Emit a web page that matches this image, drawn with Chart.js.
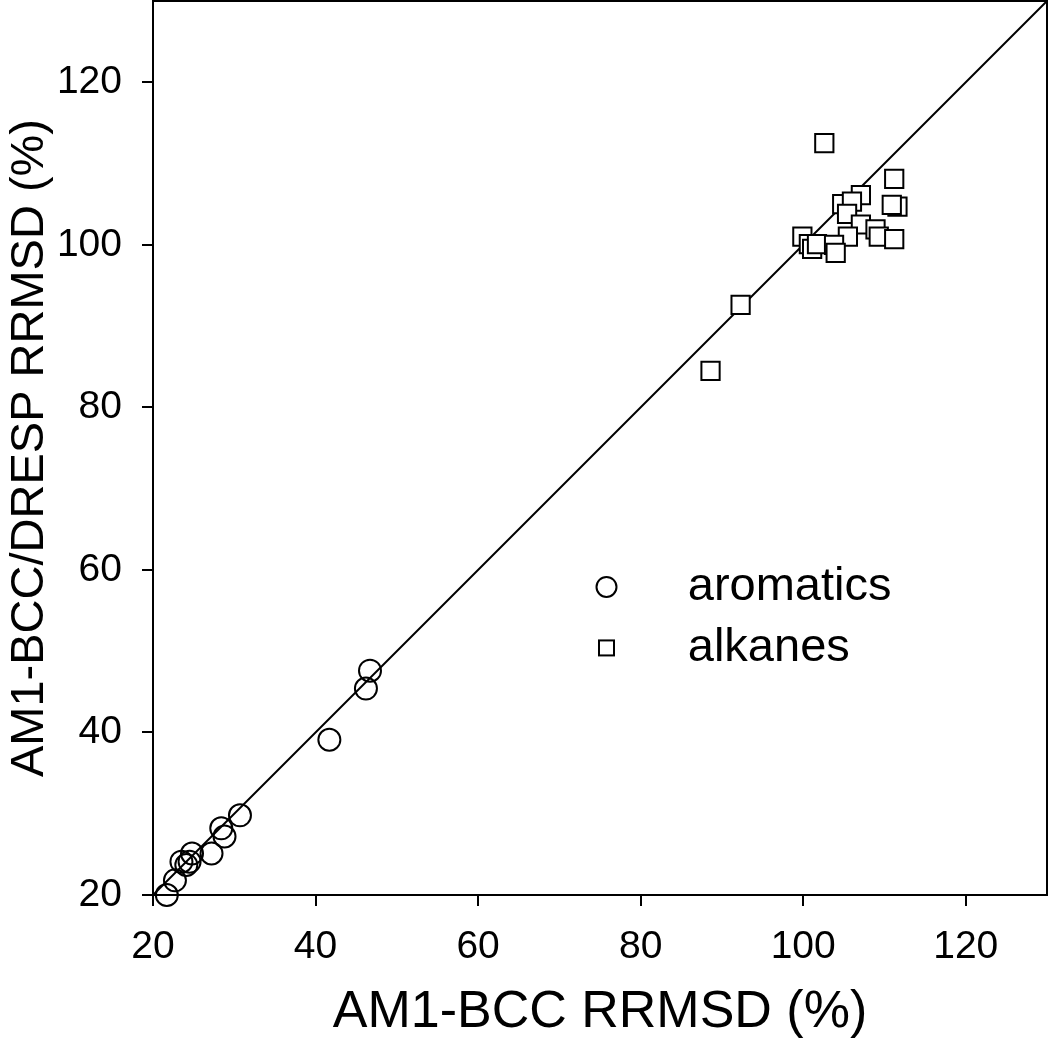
<!DOCTYPE html>
<html>
<head>
<meta charset="utf-8">
<script src="https://cdn.jsdelivr.net/npm/chart.js@4"></script>
<style>
html,body{margin:0;padding:0;background:#fff;}
#wrap{width:1050px;height:1050px;}
</style>
</head>
<body>
<div id="wrap"><canvas id="c" width="1050" height="1050"></canvas></div>
<script>
// ---- data ----
const aromaticsX = [46.7, 46.2, 41.7, 30.7, 28.4, 28.8, 27.2, 24.8, 24.5, 24.1, 23.5, 22.7, 21.7];
const aromaticsY = [47.6, 45.4, 39.1, 29.8, 28.2, 27.2, 25.1, 25.1, 24.1, 23.7, 24.1, 21.8, 20.0];
const alkanesX = [102.6, 111.2, 111.6, 110.9, 107.1, 104.8, 106.0, 105.4, 107.1, 108.9, 109.3, 111.2, 105.5, 99.9, 100.7, 101.1, 101.7, 103.8, 104.0, 92.3, 88.6];
const alkanesY = [112.5, 108.1, 104.7, 104.9, 106.1, 105.0, 105.3, 103.8, 102.5, 101.9, 101.0, 100.7, 101.0, 101.0, 100.1, 99.5, 100.1, 100.0, 99.0, 92.6, 84.5];
const identityLine = [20, 130];
const tickValues = [20, 40, 60, 80, 100, 120];
const axisMin = 20, axisMax = 130;
const legendLabels = ['aromatics', 'alkanes'];
const xTitle = 'AM1-BCC RRMSD (%)';
const yTitle = 'AM1-BCC/DRESP RRMSD (%)';

const FONT = "'Liberation Sans', Arial, sans-serif";

const toPts = (xs, ys) => xs.map((x, i) => ({x: x, y: ys[i]}));

const boxPlugin = {
  id: 'box',
  afterDatasetsDraw(chart) {
    const {ctx, chartArea: a} = chart;
    ctx.save();
    ctx.strokeStyle = '#000';
    ctx.lineWidth = 2;
    ctx.strokeRect(a.left, a.top, a.right - a.left, a.bottom - a.top);
    ctx.restore();
  }
};

const legendPlugin = {
  id: 'innerLegend',
  afterDraw(chart) {
    const {ctx} = chart;
    const xs = chart.scales.x, ys = chart.scales.y;
    const mx = xs.getPixelForValue(75.8);
    const tx = xs.getPixelForValue(85.8);
    const y1 = ys.getPixelForValue(57.9);
    const y2 = ys.getPixelForValue(50.4);
    ctx.save();
    ctx.strokeStyle = '#000';
    ctx.lineWidth = 2;
    ctx.beginPath();
    ctx.arc(mx, y1, 10, 0, Math.PI * 2);
    ctx.stroke();
    ctx.fillStyle = '#fff';
    ctx.fillRect(mx - 7.5, y2 - 7.5, 15, 15);
    ctx.strokeRect(mx - 7.5, y2 - 7.5, 15, 15);
    ctx.fillStyle = '#000';
    ctx.font = '47px ' + FONT;
    ctx.textAlign = 'left';
    ctx.textBaseline = 'middle';
    ctx.fillText(legendLabels[0], tx, y1);
    ctx.fillText(legendLabels[1], tx, y2);
    ctx.restore();
  }
};

const setTicks = (axis) => { axis.ticks = tickValues.map(v => ({value: v})); };
const zeroPad = (axis) => { axis.paddingTop = 0; axis.paddingBottom = 0; axis.paddingLeft = 0; axis.paddingRight = 0; };

new Chart(document.getElementById('c'), {
  type: 'scatter',
  data: {
    datasets: [
      {
        label: legendLabels[1],
        data: toPts(alkanesX, alkanesY),
        pointStyle: 'rect',
        pointRadius: 12.9,
        pointHoverRadius: 12.9,
        backgroundColor: '#fff',
        borderColor: '#000',
        borderWidth: 2,
        order: 0
      },
      {
        label: legendLabels[0],
        data: toPts(aromaticsX, aromaticsY),
        pointStyle: 'circle',
        pointRadius: 11,
        pointHoverRadius: 11,
        backgroundColor: 'rgba(0,0,0,0)',
        borderColor: '#000',
        borderWidth: 2,
        order: 1
      },
      {
        label: 'y = x',
        type: 'line',
        data: toPts(identityLine, identityLine),
        showLine: true,
        pointRadius: 0,
        borderColor: '#000',
        borderWidth: 2,
        fill: false,
        order: 2
      }
    ]
  },
  options: {
    responsive: false,
    animation: false,
    devicePixelRatio: 1,
    clip: false,
    layout: {autoPadding: false, padding: {top: 1, right: 3, left: 0, bottom: 0}},
    plugins: {
      legend: {display: false},
      tooltip: {enabled: false}
    },
    scales: {
      x: {
        type: 'linear',
        min: axisMin, max: axisMax,
        afterBuildTicks: setTicks,
        afterFit: (axis) => { axis.height = 155; zeroPad(axis); },
        grid: {display: true, drawOnChartArea: false, drawTicks: true, tickLength: 11, lineWidth: 2, color: '#000'},
        border: {display: true, width: 2, color: '#000'},
        ticks: {color: '#000', padding: 18, maxRotation: 0, font: {family: FONT, size: 39}},
        title: {display: true, text: xTitle, color: '#000', padding: {top: 0, bottom: 6}, font: {family: FONT, size: 52}}
      },
      y: {
        type: 'linear',
        min: axisMin, max: axisMax,
        afterBuildTicks: setTicks,
        afterFit: (axis) => { axis.width = 153; zeroPad(axis); },
        grid: {display: true, drawOnChartArea: false, drawTicks: true, tickLength: 11, lineWidth: 2, color: '#000'},
        border: {display: true, width: 2, color: '#000'},
        ticks: {color: '#000', padding: 20, font: {family: FONT, size: 39}},
        title: {display: true, text: yTitle, color: '#000', padding: {top: 2, bottom: 0}, font: {family: FONT, size: 47}}
      }
    }
  },
  plugins: [boxPlugin, legendPlugin]
});
</script>
</body>
</html>
